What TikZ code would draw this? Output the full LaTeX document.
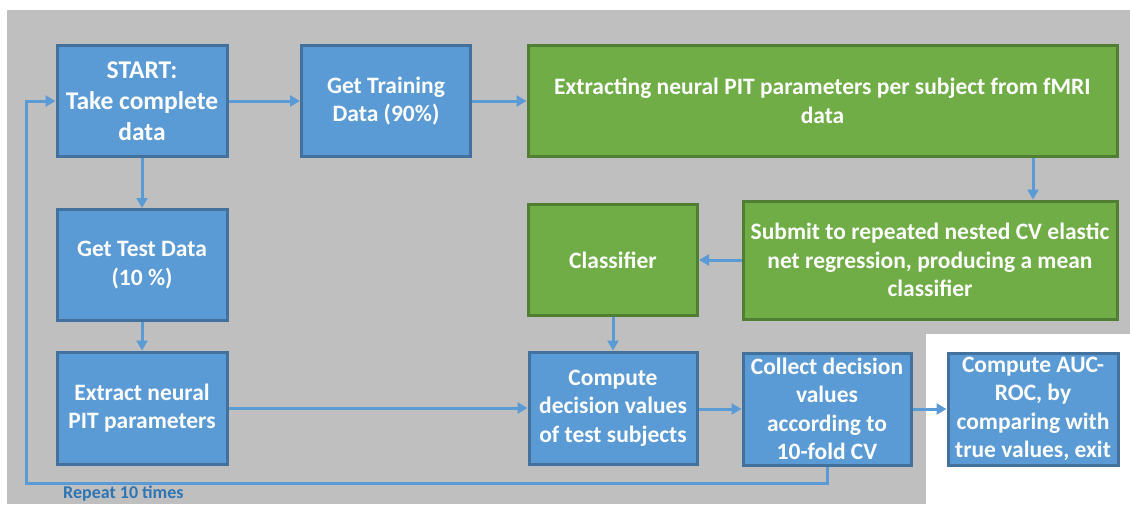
\documentclass[tikz,border=0pt]{standalone}
\usepackage{fontspec}
\setmainfont{Carlito}
\definecolor{bggray}{RGB}{191, 191, 191}
\definecolor{boxblue}{RGB}{91, 155, 213}
\definecolor{edgeblue}{RGB}{65, 113, 156}
\definecolor{boxgreen}{RGB}{112, 173, 71}
\definecolor{edgegreen}{RGB}{80, 126, 50}
\definecolor{textblue}{RGB}{46, 117, 182}
\usepackage{tikz}
\usetikzlibrary{arrows.meta, positioning, calc}
\tikzset{
  stepbox/.style={rectangle, draw=edge#1, fill=box#1, line width=3pt, align=center, text=white, font=\fontsize{23.5}{28.5}\selectfont\bfseries, inner sep=1pt},
  flowline/.style={draw=boxblue, line width=3pt, -{Triangle[length=10pt, width=11pt]}},
}

\begin{document}
\begin{tikzpicture}[x=1pt, y=-1pt]
\useasboundingbox (0,0) rectangle (1130,504);
\fill[bggray] (7,10) rectangle (1130,504);
\fill[white] (926,334) rectangle (1130,504);
% top row
\node[stepbox=blue, minimum width=170, minimum height=111, font=\fontsize{25.5}{31}\selectfont\bfseries] (start) at (142,101) {START:\\Take complete\\data};
\node[stepbox=blue, minimum width=169, minimum height=111] (train) at (386,101) {Get Training\\Data (90\%)};
\node[stepbox=green, minimum width=589, minimum height=111] (fmri) at (822.5,101) {Extracting neural PIT parameters per subject from fMRI\\data};
% middle row
\node[stepbox=blue, minimum width=170, minimum height=111] (test) at (142,265) {Get Test Data\\(10 \%)};
\node[stepbox=green, minimum width=169, minimum height=111] (clf) at (613,260) {Classifier};
\node[stepbox=green, minimum width=374, minimum height=118] (elnet) at (930,260) {Submit to repeated nested CV elastic\\net regression, producing a mean\\classifier};
% bottom row
\node[stepbox=blue, minimum width=170, minimum height=112] (params) at (142,408) {Extract neural\\PIT parameters};
\node[stepbox=blue, minimum width=168, minimum height=112] (decide) at (613,408) {Compute\\decision values\\of test subjects};
\node[stepbox=blue, minimum width=168, minimum height=112] (collect) at (827,409) {Collect decision\\values\\according to\\10-fold CV};
\node[stepbox=blue, minimum width=170, minimum height=112] (auc) at (1033,409) {Compute AUC-\\ROC, by\\comparing with\\true values, exit};
% connectors
\draw[flowline] (start) -- (train);
\draw[flowline] (train) -- (fmri);
\draw[flowline] (fmri.south -| elnet.north) ++(103,0) coordinate (fdown) -- (fdown |- elnet.north);
\draw[flowline] (elnet) -- (clf);
\draw[flowline] (clf) -- (decide);
\draw[flowline] (start) -- (test);
\draw[flowline] (test) -- (params);
\draw[flowline] (params) -- (decide);
\draw[flowline] (decide.east |- collect) -- (collect);
\draw[flowline] (collect) -- (auc);
% repeat loop
\coordinate (loopdown) at ($(collect.south)+(0,17)$);
\draw[flowline] (collect.south) -- (loopdown) -- (loopdown -| 26,0) -- (26,101) -- (start.west);
\node[anchor=west, text=textblue, font=\fontsize{18}{21}\selectfont\bfseries, inner sep=0pt] (repeat) at (63,494) {Repeat 10 times};
\end{tikzpicture}
\end{document}
